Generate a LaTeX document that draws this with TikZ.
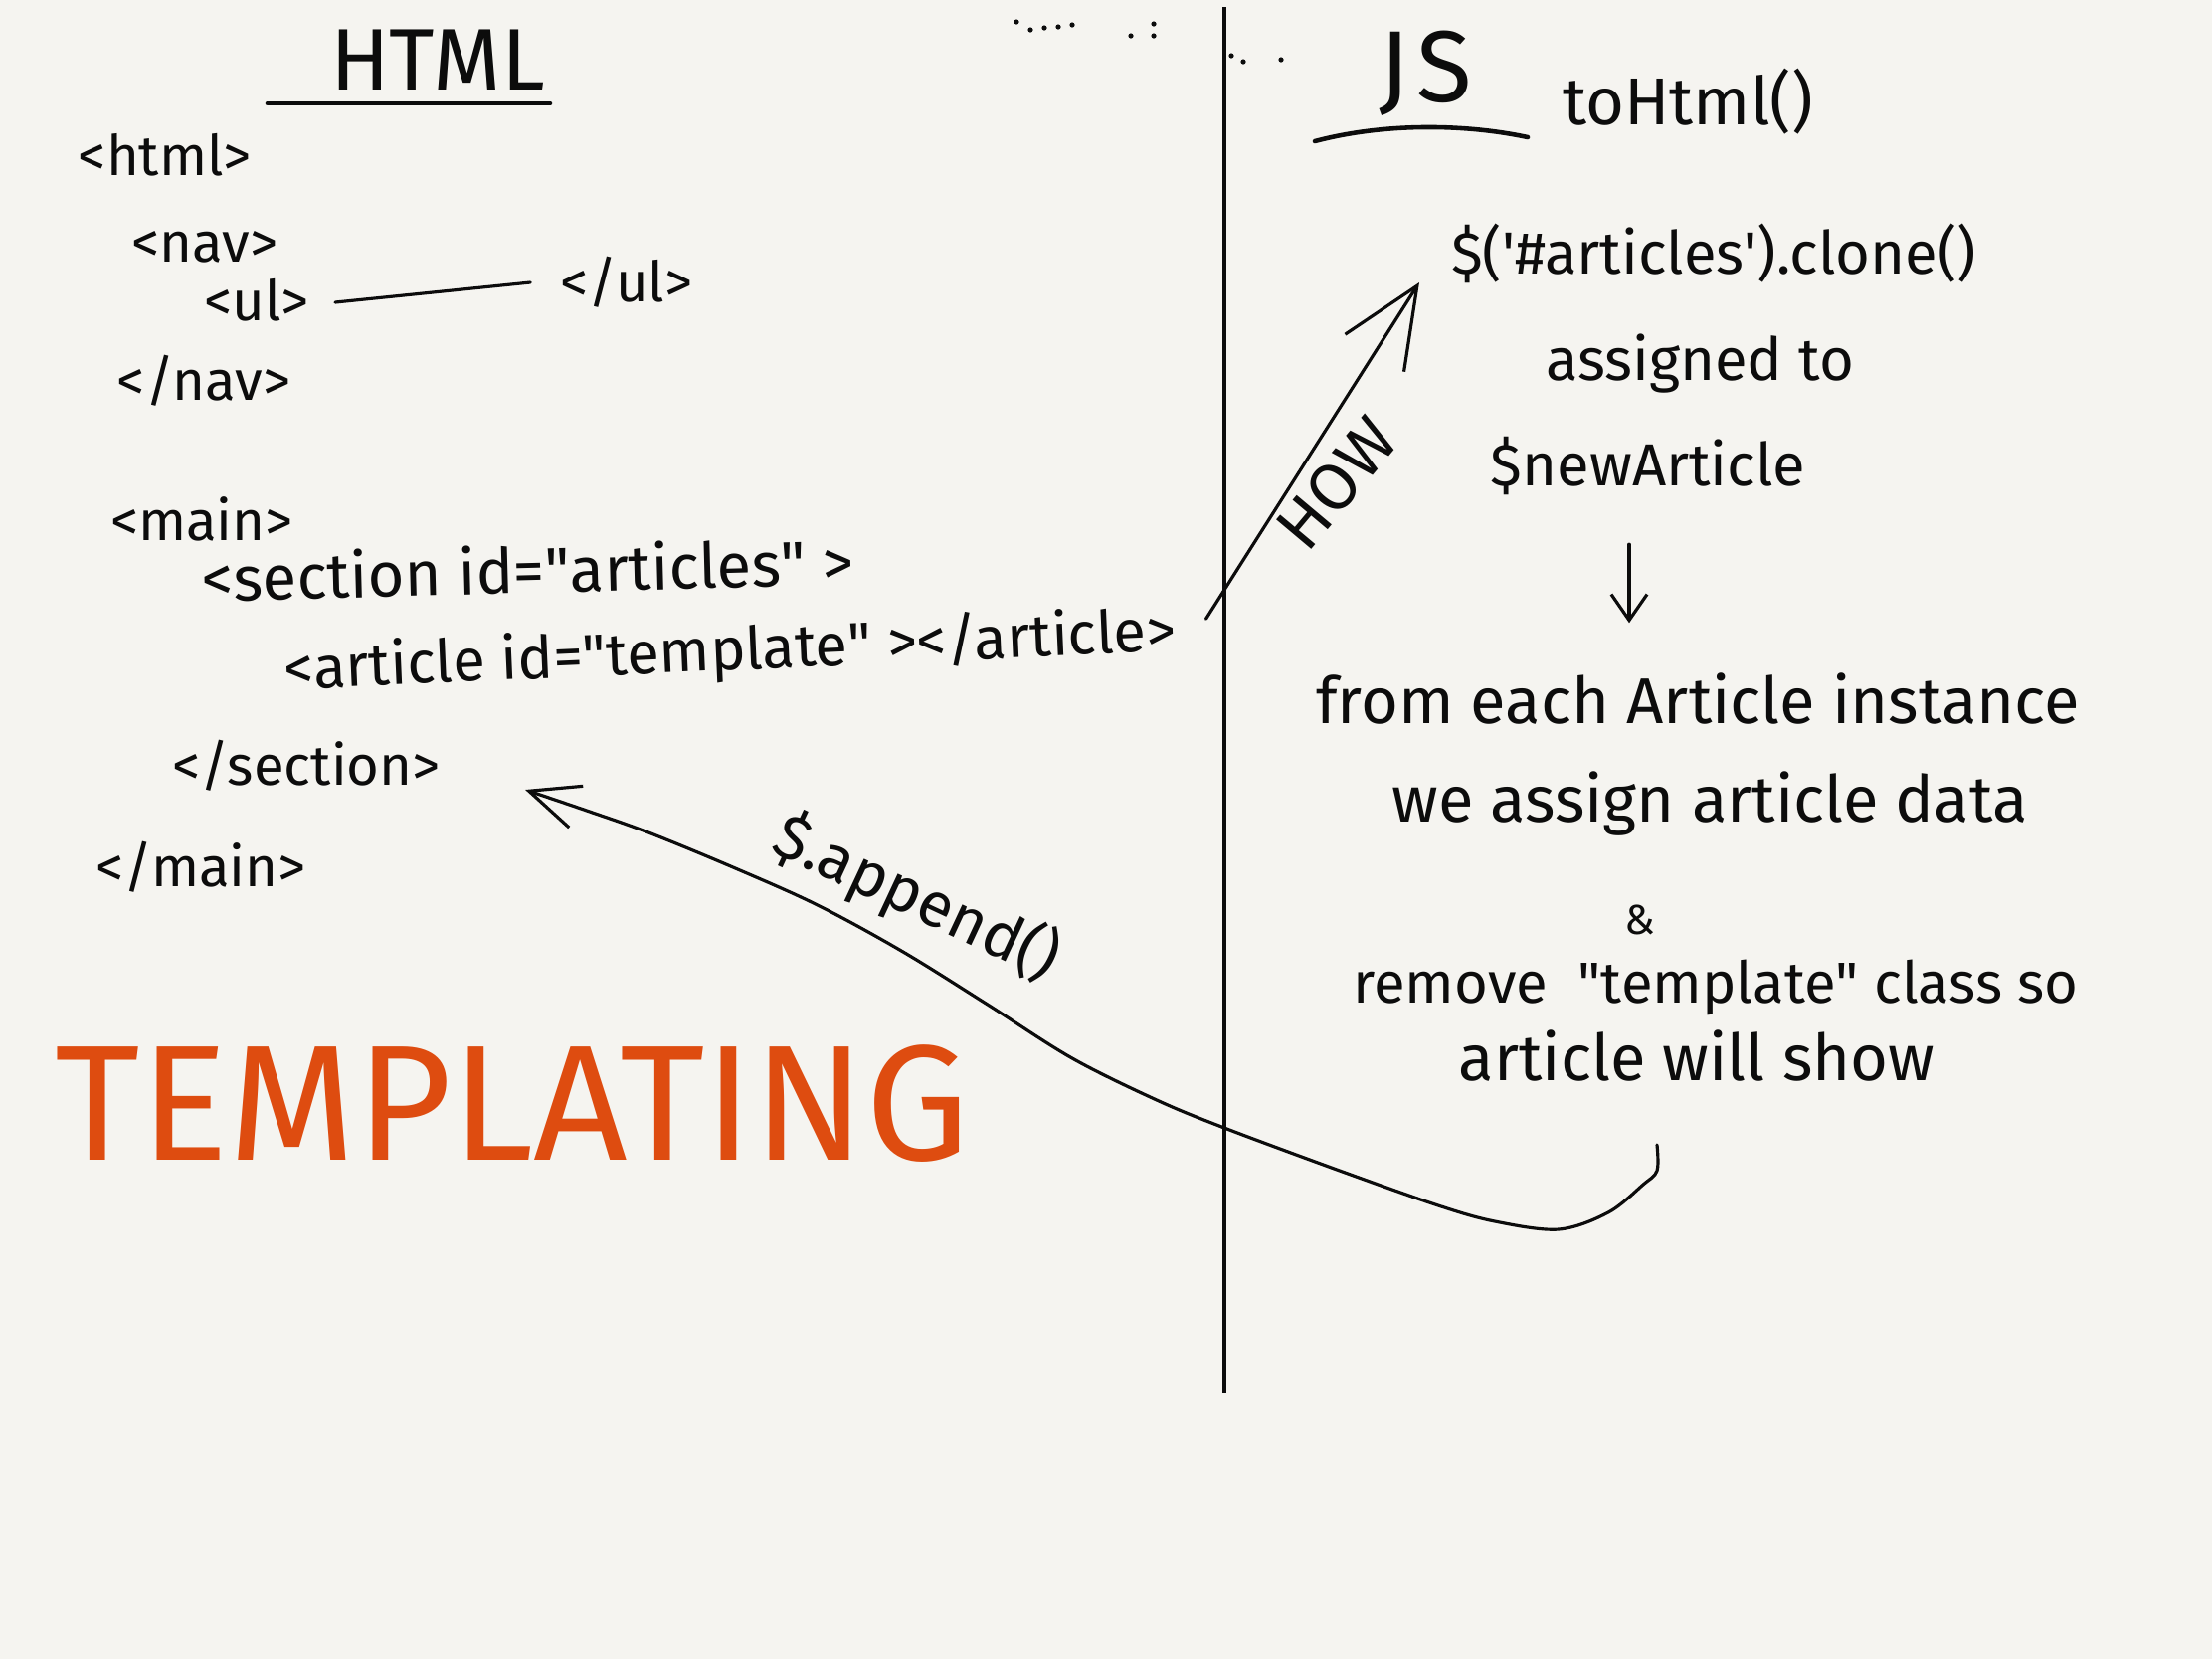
\documentclass[tikz,border=0pt]{standalone}
\usepackage{fontspec}
\setmainfont{Fira Sans}
\usetikzlibrary{arrows.meta,calc}
\definecolor{paper}{RGB}{245,244,240}
\definecolor{ink}{RGB}{12,12,12}
\definecolor{orng}{RGB}{222,76,16}
\newcommand{\dq}{\textquotedbl}
\newcommand{\sq}{\textquotesingle}
\begin{document}
\begin{tikzpicture}[x=0.01cm,y=-0.01cm,
  code/.style={font=\fontsize{16}{18}\selectfont, text=ink, inner sep=1pt},
  note/.style={font=\fontsize{17}{19}\selectfont, text=ink, inner sep=1pt},
  title/.style={font=\fontsize{25}{28}\selectfont, text=ink, inner sep=1pt},
  ln/.style={draw=ink, line width=0.9pt, line cap=round, line join=round},
  rule/.style={draw=ink, line width=1.3pt, line cap=round}]
\fill[paper] (0,0) rectangle (2224,1668);
\useasboundingbox (0,0) rectangle (2224,1668);

% stray marks near the top
\foreach \p in {(1022,22),(1036,30),(1050,28),(1064,27),(1078,25),(1137,36),(1160,24),(1160,36),(1238,56),(1250,62),(1288,60)}
  \fill[ink] \p circle (2.6);

% divider
\draw[ink, line width=1.4pt] (1231,7) -- (1231,1401);

% HTML side
\node[title] (htmlT) at (440,60) {HTML};
\draw[rule] (269,104) -- (553,104);
\node[code] (html) at (166,156) {<html>};
\node[code] (nav) at (206,248) {<nav>};
\node[code] (ul) at (258,302) {<ul>};
\node[code] (ulc) at (630,284) {</ul>};
\node[code] (navc) at (205,383) {</nav>};
\node[code] (main) at (203,522) {<main>};
\node[code, font=\fontsize{18}{20}\selectfont, rotate=1.5] (section) at (531,572) {<section id=\dq articles\dq\ >};
\node[code, font=\fontsize{17}{19}\selectfont, rotate=2.5] (article) at (734,656) {<article id=\dq template\dq\ ></article>};
\node[code] (sectionc) at (308,770) {</section>};
\node[code] (mainc) at (202,872) {</main>};

\draw[ln] (ul.east) ++(22,2) coordinate (ulA) (ulc.west) ++(-26,0) coordinate (ulB);
\draw[ln] (ulA) -- (ulB);

\node[font=\fontsize{47}{50}\selectfont, text=orng, inner sep=0pt] (templ) at (515,1110) {TEMPLATING};

% JS side
\node[title, font=\fontsize{29}{31}\selectfont] (js) at (1433,74) {J\kern2pt S};
\draw[rule] (1322,142) .. controls (1390,124) and (1470,124) .. (1536,138);
\node[note, font=\fontsize{19}{21}\selectfont] (tohtml) at (1697,102) {toHtml()};
\node[note] (clone) at (1723,255) {\$(\sq\#articles\sq).clone()};
\node[note] (assigned) at (1709,366) {assigned to};
\node[note] (newart) at (1657,468) {\$newArticle};
\node[note, font=\fontsize{18.5}{20}\selectfont] (from) at (1707,702) {from each Article instance};
\node[note, font=\fontsize{18.5}{20}\selectfont] (assign) at (1719,808) {we assign article data};
\node[note, font=\fontsize{12}{14}\selectfont] (amp) at (1649,925) {\&};
\node[note, font=\fontsize{16.5}{18}\selectfont] (remove) at (1725,993) {remove \ \dq template\dq\ class so};
\node[note, font=\fontsize{18.5}{20}\selectfont] (show) at (1706,1061) {article will show};

% HOW arrow
\coordinate (howA) at ($(article.east)+(26,-14)$);
\coordinate (howB) at ($(clone.west)+(-28,29)$);
\draw[ln, -{Straight Barb[length=8mm,width=7mm]}] (howA) -- (howB);
\node[note, font=\fontsize{19}{21}\selectfont, rotate=50] (how) at (1344,486) {HOW};

% down arrow
\draw[ln, -{Straight Barb[length=2.6mm,width=3.6mm]}, shorten <=13pt, shorten >=13pt] (newart.south) ++(-19,0) coordinate (dnA) -- ($(from.north)+(-69,0)$);

% append curve
\coordinate (apS) at ($(show.south)+(-40,60)$);
\coordinate (apE) at ($(sectionc.east)+(81,24)$);
\draw[ln, -{Straight Barb[length=5mm,width=4.4mm]}] plot[smooth, tension=0.55] coordinates {
  (apS) (1666,1177) (1652,1191) (1617,1219) (1567,1236) (1503,1228) (1446,1212)
  (1347,1177) (1231,1134) (1163,1106) (1078,1064) (993,1010) (908,957)
  (822,910) (737,872) (652,837) (590,815) (apE)};
\node[note, font=\fontsize{18}{20}\selectfont, rotate=-25] (append) at (922,903) {\$.append()};
\end{tikzpicture}
\end{document}
